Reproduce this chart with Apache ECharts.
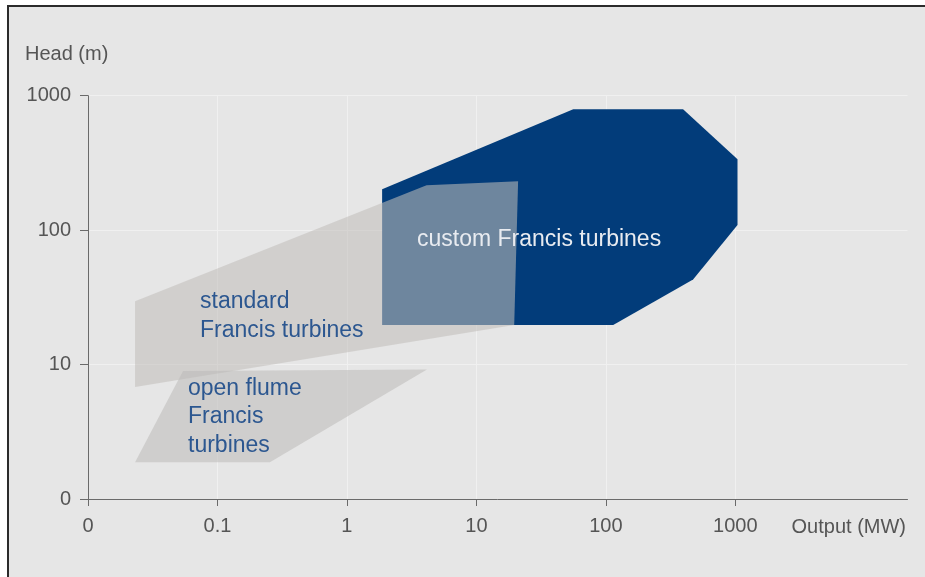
<!DOCTYPE html>
<html>
<head>
<meta charset="utf-8">
<script src="https://cdn.jsdelivr.net/npm/echarts@6/dist/echarts.min.js"></script>
<style>
  html, body { margin: 0; padding: 0; background: #ffffff; }
  #wrap { position: relative; width: 925px; height: 577px; overflow: hidden; }
  #panel { position: absolute; left: 7px; top: 5px; right: 0; bottom: 0;
           background: #e6e6e6; border-left: 2px solid #2b2b2b; border-top: 2px solid #2b2b2b; }
  #chart { position: absolute; left: 0; top: 0; width: 925px; height: 577px; }
</style>
</head>
<body>
<div id="wrap"><div id="panel"></div><div id="chart"></div></div>
<script>
// Tick labels (axes are logarithmic decades, "0" at the origin)
const xTickLabels = ['0', '0.1', '1', '10', '100', '1000'];
const yTickLabels = ['0', '10', '100', '1000'];

// Custom Francis turbines: output (MW), head (m)
const customOutput = [1.87, 56, 395, 1040, 1040, 472, 114, 1.87];
const customHead   = [201, 794, 794, 337, 109, 43, 19.7, 19.7];

// Standard Francis turbines
const standardOutput = [0.0231, 4.12, 21.0, 19.6, 0.0231];
const standardHead   = [29.6, 216, 231, 19.7, 6.8];

// Open flume Francis turbines
const flumeOutput = [0.0542, 4.15, 0.254, 0.0231];
const flumeHead   = [8.95, 9.2, 1.88, 1.88];

// map values to decade positions on the axes
const xPos = v => Math.log10(v) + 2;   // 0.01 MW -> 0, 0.1 -> 1, 1 -> 2 ...
const yPos = v => Math.log10(v);       // 1 m -> 0, 10 -> 1, 100 -> 2 ...

function toPoints(xs, ys) { return xs.map((v, i) => [xPos(v), yPos(ys[i])]); }

function polygonSeries(name, xs, ys, fill, z) {
  const pts = toPoints(xs, ys);
  return {
    name: name,
    type: 'custom',
    z: z,
    silent: true,
    data: pts,
    renderItem: function (params, api) {
      if (params.dataIndex !== 0) return null;
      const coords = pts.map(p => api.coord(p));
      return { type: 'polygon', shape: { points: coords }, style: { fill: fill } };
    }
  };
}

const FONT = '"Liberation Sans", Arial, Helvetica, sans-serif';
const chart = echarts.init(document.getElementById('chart'), null, { renderer: 'canvas' });

chart.setOption({
  animation: false,
  backgroundColor: 'transparent',
  grid: { left: 88, right: 17.5, top: 95.7, bottom: 78, containLabel: false },
  xAxis: {
    type: 'value', min: 0, max: 6.33, interval: 1,
    axisLine: { show: true, lineStyle: { color: '#6a6a6a', width: 1 } },
    axisTick: { show: true, length: 7, customValues: [0, 1, 2, 3, 4, 5], lineStyle: { color: '#6a6a6a' } },
    axisLabel: {
      customValues: [0, 1, 2, 3, 4, 5],
      margin: 17, color: '#555555', fontSize: 20, fontFamily: FONT,
      formatter: v => xTickLabels[Math.round(v)] ?? ''
    },
    splitLine: { show: true, lineStyle: { color: '#f0f0f0', width: 1 } }
  },
  yAxis: {
    type: 'value', min: 0, max: 3, interval: 1,
    axisLine: { show: true, lineStyle: { color: '#6a6a6a', width: 1 } },
    axisTick: { show: true, length: 8, lineStyle: { color: '#6a6a6a' } },
    axisLabel: {
      margin: 17, color: '#555555', fontSize: 20, fontFamily: FONT,
      formatter: v => yTickLabels[Math.round(v)] ?? ''
    },
    splitLine: { show: true, lineStyle: { color: '#f0f0f0', width: 1 } }
  },
  graphic: [
    { type: 'text', left: 25, top: 44, z: 100,
      style: { text: 'Head (m)', fill: '#555555', font: '20px ' + FONT } },
    { type: 'text', right: 19, top: 517, z: 100,
      style: { text: 'Output (MW)', fill: '#555555', font: '20px ' + FONT } },
    { type: 'text', x: 417, y: 240, z: 100,
      style: { text: 'custom Francis turbines', fill: '#e8ebf0', font: '23px ' + FONT,
               textVerticalAlign: 'middle' } },
    { type: 'text', x: 200, y: 316, z: 100,
      style: { text: 'standard\nFrancis turbines', fill: '#2c5790', font: '23px ' + FONT,
               lineHeight: 29, textVerticalAlign: 'middle' } },
    { type: 'text', x: 188, y: 417, z: 100,
      style: { text: 'open flume\nFrancis\nturbines', fill: '#2c5790', font: '23px ' + FONT,
               lineHeight: 28.5, textVerticalAlign: 'middle' } }
  ],
  series: [
    polygonSeries('custom Francis turbines', customOutput, customHead, '#023c7a', 2),
    polygonSeries('standard Francis turbines', standardOutput, standardHead, 'rgba(194,190,186,0.57)', 3),
    polygonSeries('open flume Francis turbines', flumeOutput, flumeHead, 'rgba(188,186,184,0.55)', 4)
  ]
});
</script>
</body>
</html>
